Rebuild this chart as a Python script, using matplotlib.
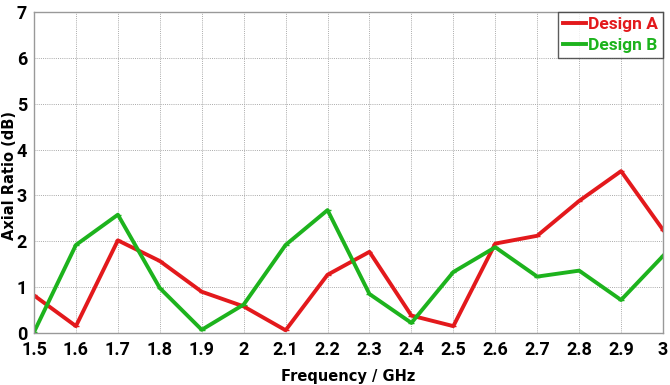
import matplotlib
matplotlib.use("Agg")
import matplotlib.pyplot as plt

freq = [1.5, 1.6, 1.7, 1.8, 1.9, 2.0, 2.1, 2.2, 2.3, 2.4, 2.5, 2.6, 2.7, 2.8, 2.9, 3.0]
design_a = [0.82, 0.15, 2.02, 1.57, 0.90, 0.58, 0.06, 1.27, 1.77, 0.38, 0.15, 1.95, 2.12, 2.88, 3.53, 2.25]
design_b = [0.02, 1.92, 2.58, 0.98, 0.07, 0.62, 1.92, 2.68, 0.85, 0.22, 1.33, 1.87, 1.23, 1.36, 0.72, 1.68]
xtick_labels = ["1.5", "1.6", "1.7", "1.8", "1.9", "2", "2.1", "2.2", "2.3", "2.4", "2.5", "2.6", "2.7", "2.8", "2.9", "3"]

fig = plt.figure(figsize=(6.7, 3.85), dpi=100)
ax = fig.add_axes([34/670, 1 - 333/385, (663-34)/670, (333-12)/385])

ax.plot(freq, design_a, color="#e3191c", lw=2.8, marker="_", ms=5, label="Design A")
ax.plot(freq, design_b, color="#1db31d", lw=2.8, marker="_", ms=5, label="Design B")

ax.set_xlim(1.5, 3.0)
ax.set_ylim(0, 7)
ax.set_xticks(freq)
ax.set_xticklabels(xtick_labels)
ax.set_yticks(range(8))
ax.grid(True, linestyle=(0, (1, 1.2)), color="#aaaaaa", lw=0.7)
ax.tick_params(axis="x", length=0, pad=6)
ax.tick_params(axis="y", length=0, pad=5)
for lab in ax.get_xticklabels() + ax.get_yticklabels():
    lab.set_fontweight("bold")
    lab.set_fontfamily("Roboto")
    lab.set_fontsize(13)
for s in ax.spines.values():
    s.set_color("#999999")
    s.set_linewidth(1.0)

ax.set_xlabel("Frequency / GHz", fontweight="bold", fontsize=10.5, labelpad=7)
ax.set_ylabel("Axial Ratio (dB)", fontweight="bold", fontsize=10.5, va="center")
ax.yaxis.set_label_coords(-0.039, 0.49)

leg = ax.legend(loc="upper right", bbox_to_anchor=(1.0, 1.0), frameon=True, fancybox=False,
                handlelength=1.3, handletextpad=0.1, borderpad=0.3, labelspacing=0.3,
                borderaxespad=0, prop={"family": "Roboto", "weight": "bold", "size": 12.5})
leg.get_frame().set_edgecolor("#333333")
leg.get_frame().set_linewidth(1.0)
for t, c in zip(leg.get_texts(), ["#e3191c", "#1db31d"]):
    t.set_color(c)

fig.savefig("out.png", dpi=100)
